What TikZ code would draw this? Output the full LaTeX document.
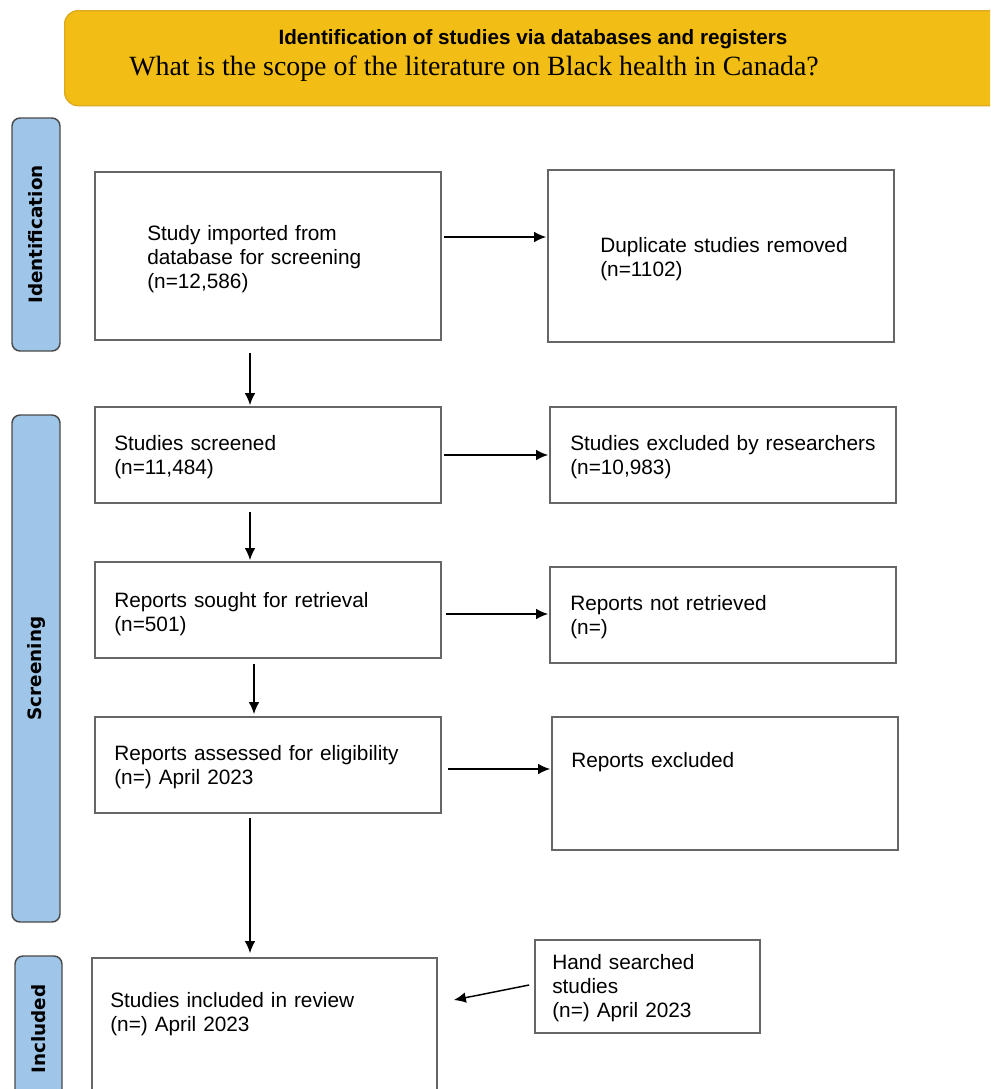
\documentclass[tikz,border=0pt]{standalone}
\usepackage{fontspec}
\setmainfont{Liberation Sans}
\newfontfamily\qfont{Liberation Serif}
\newfontfamily\sidefont{DejaVu Sans}
\usetikzlibrary{calc,arrows.meta}
\definecolor{hdrfill}{HTML}{F2BD14}
\definecolor{hdrline}{HTML}{DDA920}
\definecolor{barfill}{HTML}{9FC5E8}
\definecolor{barline}{HTML}{4A4A4A}
\definecolor{boxline}{HTML}{666666}
\begin{document}
\begin{tikzpicture}[x=0.75pt,y=-0.75pt,
 box/.style={draw=boxline, line width=1.3pt, fill=white, inner sep=0pt},
 bar/.style={draw=barline, line width=1.1pt, fill=barfill, rounded corners=6pt, inner sep=0pt},
 sidelab/.style={font=\sidefont\bfseries\fontsize{13.8}{16}\selectfont, rotate=90, inner sep=0pt},
 txt/.style={font=\fontsize{15.6}{18}\selectfont, anchor=base west, inner sep=0pt, text width=9cm, align=left},
 arr/.style={line width=1.1pt, -{Latex[length=9pt,width=8pt]}},
]
\useasboundingbox (0,0) rectangle (990,1089);
\clip (0,0) rectangle (990,1089);

% header
\node[draw=hdrline, fill=hdrfill, line width=1pt, rounded corners=10pt,
      minimum width=717pt, minimum height=71.25pt, inner sep=0pt, anchor=north west] (hdr) at (64,10) {};
\node[font=\bfseries\fontsize{15.5}{18}\selectfont, anchor=base, inner sep=0pt] (title) at (533,44)
  {Identification of studies via databases and registers};
\node[font=\qfont\fontsize{20.9}{24}\selectfont, anchor=base west, inner sep=0pt] (question) at (129,75)
  {What is the scope of the literature on Black health in Canada?};

% side bars
\node[bar, minimum width=36pt, minimum height=174.75pt] (s1) at (36,234.5) {};
\node[sidelab] (l1) at (s1) {Identification};
\node[bar, minimum width=36pt, minimum height=380.25pt] (s2) at (36,668.5) {};
\node[sidelab] (l2) at (s2) {Screening};
\node[bar, minimum width=35.25pt, minimum height=109.5pt] (s3) at (38.5,1029) {};
\node[sidelab] (l3) at (s3) {Included};

% boxes
\node[box, minimum width=259.5pt, minimum height=126pt] (b1) at (268,256) {};
\node[box, minimum width=259.5pt, minimum height=129pt] (b2) at (721,256) {};
\node[box, minimum width=259.5pt, minimum height=72pt] (b3) at (268,455) {};
\node[box, minimum width=259.5pt, minimum height=72pt] (b4) at (723,455) {};
\node[box, minimum width=259.5pt, minimum height=72pt] (b5) at (268,610) {};
\node[box, minimum width=259.5pt, minimum height=72pt] (b6) at (723,615) {};
\node[box, minimum width=259.5pt, minimum height=72pt] (b7) at (268,765) {};
\node[box, minimum width=259.5pt, minimum height=99.75pt] (b8) at (725,783.5) {};
\node[box, minimum width=258.75pt, minimum height=121.5pt] (b9) at (264.5,1039) {};
\node[box, minimum width=168.75pt, minimum height=69.75pt] (b10) at (647.5,986.5) {};

% texts
\node[txt] (t1) at (147,240) {Study imported from\\database for screening\\(n=12,586)};
\node[txt] (t2) at (600,252) {Duplicate studies removed\\(n=1102)};
\node[txt] (t3) at (114,450) {Studies screened\\(n=11,484)};
\node[txt] (t4) at (570,450) {Studies excluded by researchers\\(n=10,983)};
\node[txt] (t5) at (114,607) {Reports sought for retrieval\\(n=501)};
\node[txt] (t6) at (570,610) {Reports not retrieved\\(n=)};
\node[txt] (t7) at (114,760) {Reports assessed for eligibility\\(n=) April 2023};
\node[txt] (t8) at (571,767) {Reports excluded};
\node[txt] (t9) at (110,1007) {Studies included in review\\(n=) April 2023};
\node[txt] (t10) at (552,969) {Hand searched\\studies\\(n=) April 2023};

% arrows
\draw[arr] ($(b1.east)+(2,-19)$) -- ($(b2.west)+(-1,-19)$);
\draw[arr] ($(b1.south)+(-18,12)$) -- ($(b3.north)+(-18,-1)$);
\draw[arr] ($(b3.east)+(2,0)$) -- ($(b4.west)+(-1,0)$);
\draw[arr] ($(b3.south)+(-18,8)$) -- ($(b5.north)+(-18,-1)$);
\draw[arr] ($(b5.east)+(4,4)$) -- ($(b6.west)+(-1,-1)$);
\draw[arr] ($(b5.south)+(-14,5)$) -- ($(b7.north)+(-14,-2)$);
\draw[arr] ($(b7.east)+(6,4)$) -- ($(b8.west)+(-1,-14.5)$);
\draw[arr] ($(b7.south)+(-18,4)$) -- ($(b9.north)+(-14.5,-4)$);
\draw[arr] ($(b10.west)+(-5,-1.5)$) -- ($(b9.east)+(16,-39)$);
\end{tikzpicture}
\end{document}
